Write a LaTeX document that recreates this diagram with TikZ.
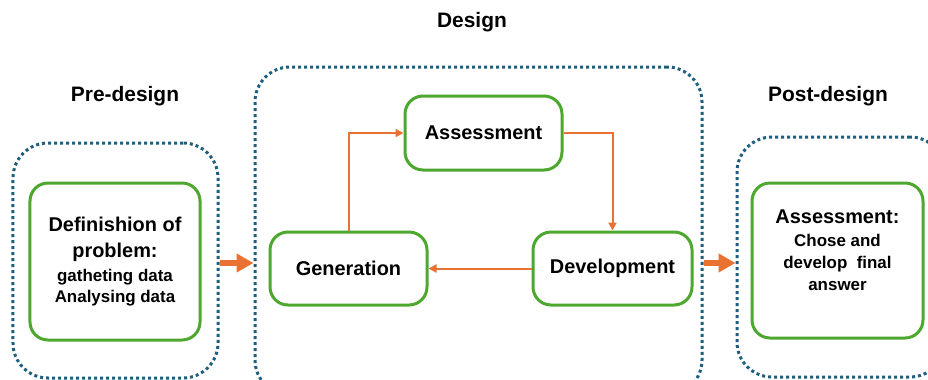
\documentclass[tikz,border=0pt]{standalone}
\usepackage{fontspec}
\setmainfont{Liberation Sans}
\usetikzlibrary{positioning, arrows.meta}
\usepackage{xcolor}

\definecolor{zoneblue}{HTML}{1F5F7E}
\definecolor{stagegreen}{HTML}{4EA72E}
\definecolor{floworange}{HTML}{E97132}

\newcommand{\bigline}[1]{{\fontsize{20}{24}\selectfont #1}}

\tikzset{
    zone/.style={draw=zoneblue, line width=3bp, dash pattern=on 3bp off 3bp, rounded corners=35bp},
    stage/.style={draw=stagegreen, line width=3bp, rounded corners=18bp, fill=white, align=center,
        font=\bfseries\fontsize{20}{24}\selectfont},
    flow/.style={draw=floworange, line width=2bp, -{Triangle[length=8bp,width=8bp]}},
    bigflow/.style={draw=floworange, line width=6bp, -{Triangle[length=17bp,width=18bp]}},
    title/.style={font=\bfseries\fontsize{21}{25}\selectfont}
}

\begin{document}
\begin{tikzpicture}[x=1bp, y=-1bp]
    % Fix the frame and cut off what runs over it
    \fill[white] (0,0) rectangle (928,379);
    \path[use as bounding box, clip] (0,0) rectangle (928,379);

    % Draw the three dotted zones
    \node[zone, minimum width=205bp, minimum height=235bp] (prezone) at (115.5,260.5) {};
    \node[zone, minimum width=447bp, minimum height=328bp] (designzone) at (478.5,231) {};
    \node[zone, minimum width=208bp, minimum height=240bp] (postzone) at (841,257) {};

    % Titles of the zones
    \node[title] (pretitle) at (125,96) {Pre-design};
    \node[title] (designtitle) at (472,22) {Design};
    \node[title] (posttitle) at (828,96) {Post-design};

    % Draw the stages
    \node[stage, minimum width=170bp, minimum height=157bp, font=\bfseries\fontsize{17}{21}\selectfont]
        (define) at (115,261.5) {\bigline{Definishion of}\\[5bp] \bigline{problem:}\\[3bp] gatheting data\\ Analysing data};
    \node[stage, minimum width=157bp, minimum height=74bp] (assess) at (483.5,133) {Assessment};
    \node[stage, minimum width=157bp, minimum height=73bp] (generate) at (348.5,268.5) {Generation};
    \node[stage, minimum width=159bp, minimum height=73bp] (develop) at (612.5,268.5) {Development};
    \node[stage, minimum width=171bp, minimum height=155bp, text depth=20bp, font=\bfseries\fontsize{17}{22.5}\selectfont]
        (final) at (837.5,260.5) {\bigline{Assessment:}\\ Chose and\\ develop\ \ final\\ answer};

    % Draw the loop inside the design zone
    \draw[flow] (generate.north) |- (assess.west);
    \draw[flow] (assess.east) -| (develop.north);
    \draw[flow] (develop.west) -- (generate.east);

    % Draw the arrows between the zones
    \draw[bigflow] ([yshift=-2.5bp]prezone.east) -- ([yshift=-2.5bp]designzone.west |- prezone.east);
    \draw[bigflow] ([yshift=-6bp]designzone.east |- postzone.west) -- ([yshift=-6bp]postzone.west);
\end{tikzpicture}
\end{document}
